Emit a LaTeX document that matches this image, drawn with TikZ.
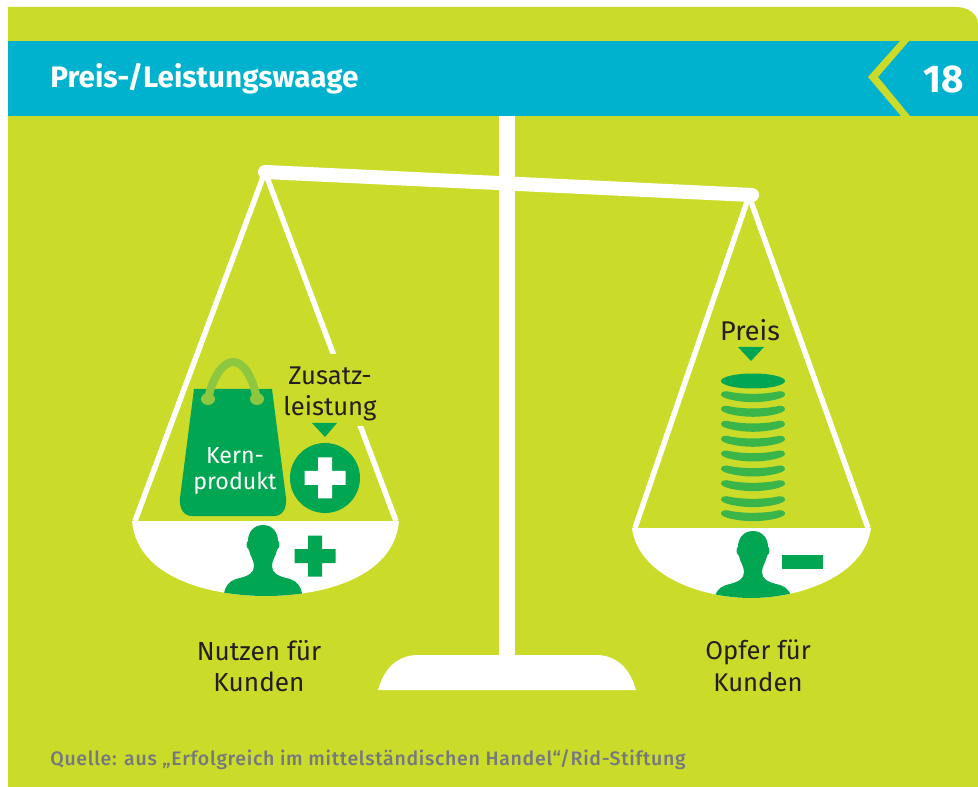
\documentclass[tikz,border=0pt]{standalone}
\usepackage{fontspec}
\setmainfont{Fira Sans}
\newfontfamily\sourcefont[LetterSpace=3.6]{Fira Sans Medium}
\definecolor{leaf}{HTML}{CBDB2A}
\definecolor{banner}{HTML}{00B2CE}
\definecolor{deepgreen}{HTML}{00A651}
\definecolor{coingreen}{HTML}{39B54A}
\definecolor{handlegreen}{HTML}{8DC63F}
\definecolor{inkdark}{HTML}{231F20}
\definecolor{inkgrey}{HTML}{75787F}
\tikzstyle{beam}=[white, line width=8pt, line cap=round]
\tikzstyle{wire}=[white, line width=3.1pt]
\tikzstyle{mark green}=[fill=deepgreen, draw=none]
\tikzstyle{label}=[inkdark, align=center, inner sep=0pt, font=\fontsize{14.6}{18}\selectfont]
\tikzstyle{white label}=[white, align=center, inner sep=0pt, font=\fontsize{13.2}{15.3}\selectfont]
\newcommand{\person}[2]{%
  \begin{scope}[shift={(#1,#2)}]
  \fill[deepgreen] (0,-22) .. controls (-10,-22) and (-15,-14) .. (-15,-6)
    -- (-16,-5) .. controls (-17,-1) and (-16,2) .. (-14,3)
    .. controls (-13,9) and (-9,13) .. (-9,19)
    .. controls (-9,26) and (-14,29) .. (-27,32)
    .. controls (-34,34) and (-38,40) .. (-39,46) -- (-39,60) -- (39,60) -- (39,46)
    .. controls (38,40) and (34,34) .. (27,32)
    .. controls (14,29) and (9,26) .. (9,19)
    .. controls (9,13) and (13,9) .. (14,3)
    .. controls (16,2) and (17,-1) .. (16,-5) -- (15,-6)
    .. controls (15,-14) and (10,-22) .. (0,-22) -- cycle;
  \end{scope}}
\newcommand{\plusmark}[4]{\fill[#4] (#1-#3,#2-7) rectangle (#1+#3,#2+7) (#1-7,#2-#3) rectangle (#1+7,#2+#3);}
\begin{document}
\begin{tikzpicture}[x=.02cm, y=-.02cm]
\useasboundingbox (0,0) rectangle (978,787);
% ground and banner
\fill[leaf] (8,7) -- (956,7) .. controls (968,7) and (978,14) .. (978,24) -- (978,787) -- (8,787) -- cycle;
\fill[banner] (8,41) rectangle (978,116);
\fill[leaf] (900,41) -- (909,41) -- (878,77) -- (910,116) -- (901,116) -- (868,77) -- cycle;
\node[white, anchor=base west, inner sep=0pt, font=\fontsize{16.9}{20}\selectfont\bfseries] (title) at (50,88) {Preis-/Leistungswaage};
\node[white, anchor=base east, inner sep=0pt, font=\fontsize{22}{26}\selectfont\bfseries] (number) at (964,93) {18};
% stand
\fill[white] (499,116) rectangle (515,660);
\fill[white] (378,690) .. controls (384,668) and (398,655) .. (418,655) -- (596,655) .. controls (616,655) and (630,668) .. (636,690) -- cycle;
\coordinate (hookL) at (265,172);
\coordinate (beamR) at (752,195);
\coordinate (hookR) at (749,196);
\draw[beam] (hookL) -- (beamR);
% left pan
\coordinate (panLa) at (135,521);
\coordinate (panLb) at (396,521);
\draw[wire] (hookL) -- (panLa);
\draw[wire] (hookL) -- (panLb);
\fill[leaf] (300,354) rectangle (380,426);
\fill[white] (132,521) .. controls (137,578) and (210,596) .. (266,596) .. controls (322,596) and (394,578) .. (399,521) -- cycle;
\begin{scope}
\clip (132,521) .. controls (137,578) and (210,596) .. (266,596) .. controls (322,596) and (394,578) .. (399,521) -- cycle;
\person{263}{547}
\end{scope}
\plusmark{315}{556}{20.5}{deepgreen}
% bag
\fill[deepgreen] (194,389) -- (272,389) -- (286,498) .. controls (287,509) and (282,516) .. (274,516)
  -- (192,516) .. controls (184,516) and (179,509) .. (180,498) -- cycle;
\fill[handlegreen] (208,399) ellipse (7 and 6) (257,399) ellipse (7 and 6);
\draw[handlegreen, line width=4.6pt] (208,399) .. controls (213,375) and (224,362) .. (233,362) .. controls (243,362) and (252,375) .. (257,399);
\node[white label] (kern) at (235,471) {Kern-\\produkt};
% extra service
\fill[mark green] (325,478) circle [radius=35];
\plusmark{325}{478}{20.5}{white}
\fill[mark green] (312,423) -- (337,423) -- (325,437) -- cycle;
\node[label] (zusatz) at (330,394) {Zusatz-\\leistung};
\node[label, font=\fontsize{14.9}{18}\selectfont] (nutzen) at (259,666) {Nutzen für\\Kunden};
% right pan
\coordinate (panRa) at (635,528);
\coordinate (panRb) at (868,528);
\draw[wire] (hookR) -- (panRa);
\draw[wire] (hookR) -- (panRb);
\fill[white] (632,528) .. controls (638,575) and (700,598) .. (751,598) .. controls (802,598) and (865,575) .. (871,528) -- cycle;
\begin{scope}
\clip (632,528) .. controls (638,575) and (700,598) .. (751,598) .. controls (802,598) and (865,575) .. (871,528) -- cycle;
\person{753}{553}
\end{scope}
\fill[mark green] (782,555) rectangle (823,569);
% coins
\fill[mark green] (753,381) ellipse (32 and 7.5);
\foreach \coiny in {394.7,409.3,424.3,439.3,454,469,483.7,499.7,513.7}
  \fill[coingreen, shift={(753,\coiny)}] (-32,0) .. controls (-32,-3) and (-28,-4) .. (-26,-3.5)
    .. controls (-12,0) and (12,0) .. (26,-3.5) .. controls (28,-4) and (32,-3) .. (32,0)
    .. controls (32,4) and (14,7.5) .. (0,7.5) .. controls (-14,7.5) and (-32,4) .. (-32,0) -- cycle;
\fill[mark green] (738,347) -- (764,347) -- (751,361) -- cycle;
\node[label, anchor=base, font=\fontsize{15.4}{18}\selectfont] (preis) at (750,341) {Preis};
\node[label] (opfer) at (758,666) {Opfer für\\Kunden};
% source
\node[inkgrey, anchor=base west, inner sep=0pt, font=\sourcefont\fontsize{11.1}{12}\selectfont] (source) at (50,765) {Quelle: aus „Erfolgreich im mittelständischen Handel“/Rid-Stiftung};
\end{tikzpicture}
\end{document}
